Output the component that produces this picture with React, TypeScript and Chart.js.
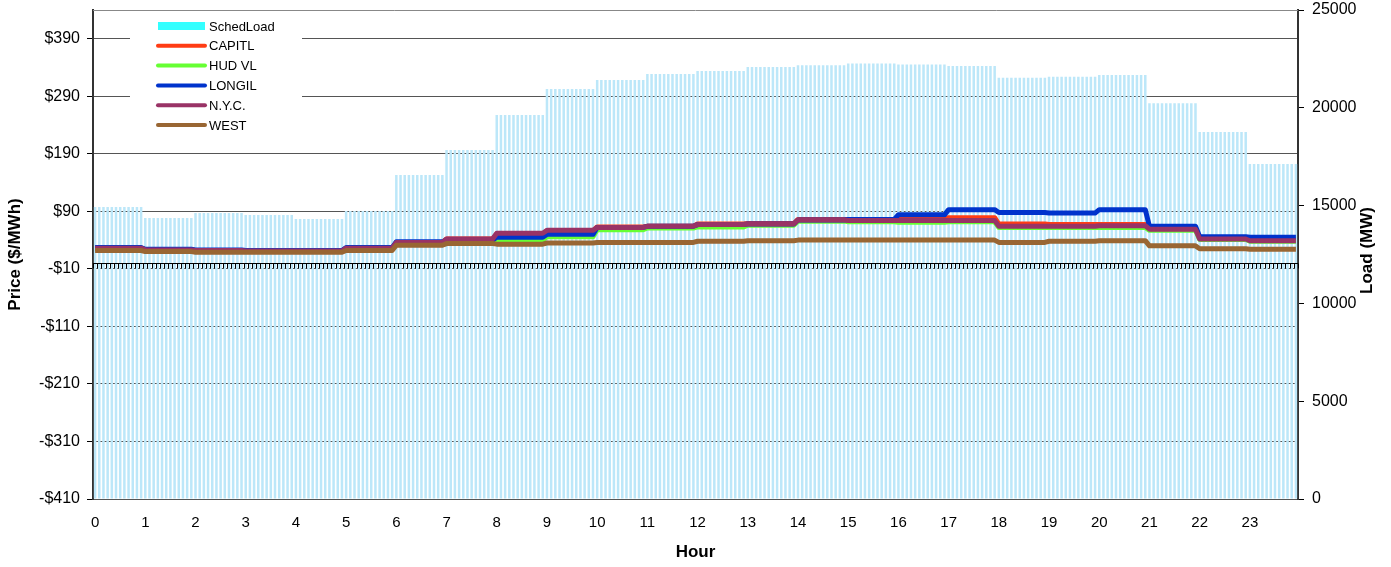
import React, { useEffect, useRef } from 'react';
import { Chart, registerables } from 'chart.js';

Chart.register(...registerables);

// ---- data (hourly schedule, shown at 5-minute resolution) ----
const hourLabels = ['0','1','2','3','4','5','6','7','8','9','10','11','12','13','14','15','16','17','18','19','20','21','22','23'];
const intervalsPerHour = 12;

const schedLoad = [14930, 14370, 14620, 14520, 14310, 14720, 16560, 17840, 19630, 20960, 21420, 21730, 21880, 22090, 22170, 22270, 22220, 22140, 21540, 21590, 21680, 20230, 18760, 17130];
const capitl = [26, 23, 22, 21, 21, 26, 36, 42, 51, 56, 63, 64, 68, 69, 76, 76, 78, 79, 68, 67, 67, 60, 43, 40];
const hudVl = [25, 22, 21, 20, 20, 25, 35, 40, 40, 46, 58, 61, 63, 66, 73, 72, 71, 72, 62, 62, 62, 57, 41, 38];
const longil = [27, 24, 23, 22, 22, 27, 37, 40, 45, 50, 62, 64, 67, 68, 75, 76, 84, 93, 88, 87, 93, 64, 46, 45];
const nyc = [26, 23, 22, 21, 21, 26, 36, 42, 52, 57, 62, 64, 67, 68, 75, 74, 74, 74, 64, 64, 65, 59, 42, 39];
const west = [22, 20, 19, 19, 19, 22, 31, 34, 33, 35, 36, 36, 38, 39, 40, 40, 40, 40, 36, 38, 39, 30, 25, 24];

const priceTicks = [-410, -310, -210, -110, -10, 90, 190, 290, 390];
const loadTicks = [0, 5000, 10000, 15000, 20000, 25000];

const FONT = "'Liberation Sans', Arial, Helvetica, sans-serif";

// repeat each hourly value over its 5-minute intervals
const toIntervals = (hourly: number[]) => hourly.flatMap((v) => Array(intervalsPerHour).fill(v));

const legendItems = [
  { label: 'SchedLoad', color: '#33ffff', box: true },
  { label: 'CAPITL', color: '#ff3c14' },
  { label: 'HUD VL', color: '#66ff33' },
  { label: 'LONGIL', color: '#0033cc' },
  { label: 'N.Y.C.', color: '#993366' },
  { label: 'WEST', color: '#996633' },
];

const framePlugin = {
  id: 'frame',
  beforeDatasetsDraw(chart: any) {
    const { ctx, chartArea } = chart;
    ctx.save();
    ctx.strokeStyle = '#888';
    ctx.lineWidth = 1;
    ctx.beginPath();
    ctx.moveTo(chartArea.left, chartArea.top + 0.5);
    ctx.lineTo(chartArea.right, chartArea.top + 0.5);
    ctx.stroke();
    ctx.restore();
  },
};

const zeroAxisPlugin = {
  id: 'zeroAxis',
  afterDatasetsDraw(chart: any) {
    const { ctx, chartArea, scales } = chart;
    const y = Math.round(scales.y.getPixelForValue(0)) + 0.5;
    const n = chart.data.labels.length;
    const w = (chartArea.right - chartArea.left) / n;
    ctx.save();
    ctx.strokeStyle = '#000';
    ctx.lineWidth = 1;
    ctx.beginPath();
    ctx.moveTo(chartArea.left, y);
    ctx.lineTo(chartArea.right, y);
    for (let i = 0; i <= n; i++) {
      const x = Math.round(chartArea.left + i * w) + 0.5;
      ctx.moveTo(x, y);
      ctx.lineTo(x, y + 5);
    }
    ctx.stroke();
    ctx.restore();
  },
};

const overlayPlugin = {
  id: 'overlay',
  afterDraw(chart: any) {
    const { ctx, chartArea } = chart;
    ctx.save();
    // legend
    ctx.fillStyle = '#fff';
    ctx.fillRect(130, 14, 172, 124);
    ctx.font = `13px ${FONT}`;
    ctx.textBaseline = 'middle';
    ctx.textAlign = 'left';
    legendItems.forEach((it, i) => {
      const cy = 26 + i * 19.8;
      if (it.box) {
        ctx.fillStyle = it.color;
        ctx.fillRect(158, cy - 4, 47, 8);
      } else {
        ctx.strokeStyle = it.color;
        ctx.lineWidth = 4;
        ctx.lineCap = 'round';
        ctx.beginPath();
        ctx.moveTo(158, cy);
        ctx.lineTo(205, cy);
        ctx.stroke();
      }
      ctx.fillStyle = '#000';
      ctx.fillText(it.label, 209, cy + 1);
    });
    // axis titles
    ctx.font = `bold 17px ${FONT}`;
    ctx.fillStyle = '#000';
    ctx.textAlign = 'center';
    ctx.textBaseline = 'middle';
    ctx.fillText('Hour', (chartArea.left + chartArea.right) / 2, 552);
    ctx.save();
    ctx.translate(15, (chartArea.top + chartArea.bottom) / 2);
    ctx.rotate(-Math.PI / 2);
    ctx.fillText('Price ($/MWh)', 0, 0);
    ctx.restore();
    ctx.save();
    ctx.translate(1367, (chartArea.top + chartArea.bottom) / 2 - 4);
    ctx.rotate(-Math.PI / 2);
    ctx.fillText('Load (MW)', 0, 0);
    ctx.restore();
    ctx.restore();
  },
};

const noPad = (s: any) => {
  s.paddingTop = 0;
  s.paddingBottom = 0;
  s.paddingLeft = 0;
  s.paddingRight = 0;
};

export default function App() {
  const ref = useRef<HTMLCanvasElement | null>(null);

  useEffect(() => {
    document.body.style.margin = '0';
    const canvas = ref.current;
    if (!canvas) return;
    const labels: string[] = [];
    hourLabels.forEach((h) => {
      for (let k = 0; k < intervalsPerHour; k++) labels.push(`${h}:${String(k * 5).padStart(2, '0')}`);
    });

    const line = (label: string, data: number[], color: string, order: number) => ({
      type: 'line' as const,
      label,
      data: toIntervals(data),
      borderColor: color,
      backgroundColor: color,
      borderWidth: 5,
      pointRadius: 0,
      tension: 0,
      fill: false,
      yAxisID: 'y',
      order,
      borderJoinStyle: 'round' as const,
    });

    const chart = new Chart(canvas, {
      type: 'bar',
      data: {
        labels,
        datasets: [
          {
            type: 'bar',
            label: 'SchedLoad',
            data: toIntervals(schedLoad),
            backgroundColor: 'rgb(188,231,249)',
            borderWidth: 0,
            barPercentage: 0.6,
            categoryPercentage: 1,
            yAxisID: 'y1',
            order: 10,
          } as any,
          line('CAPITL', capitl, '#ff3c14', 5),
          line('HUD VL', hudVl, '#66ff33', 4),
          line('LONGIL', longil, '#0033cc', 3),
          line('N.Y.C.', nyc, '#993366', 2),
          line('WEST', west, '#996633', 1),
        ],
      },
      options: {
        responsive: false,
        animation: false,
        devicePixelRatio: 1,
        layout: { padding: { top: 10, left: 0, right: 0, bottom: 0 } },
        plugins: { legend: { display: false }, tooltip: { enabled: false }, title: { display: false } },
        scales: {
          x: {
            type: 'category',
            offset: true,
            grid: { display: false, drawTicks: false },
            border: { display: false },
            ticks: {
              autoSkip: false,
              maxRotation: 0,
              minRotation: 0,
              padding: 15,
              color: '#000',
              font: { family: FONT, size: 15 },
              callback: (_v: any, i: number) => (i % intervalsPerHour === 0 ? hourLabels[i / intervalsPerHour] : ''),
            },
            afterFit: (s: any) => { s.height = 68; noPad(s); },
          },
          y: {
            position: 'left',
            min: -410,
            max: 440,
            afterBuildTicks: (s: any) => { s.ticks = priceTicks.map((v) => ({ value: v })); },
            ticks: {
              color: '#000',
              padding: 7,
              font: { family: FONT, size: 16 },
              callback: (v: any) => (Number(v) < 0 ? '-$' : '$') + Math.abs(Number(v)),
            },
            grid: { color: '#555', lineWidth: 1, tickLength: 6, tickColor: '#000' },
            border: { color: '#333', width: 2 },
            afterFit: (s: any) => { s.width = 93; noPad(s); },
          },
          y1: {
            position: 'right',
            min: 0,
            max: 25000,
            afterBuildTicks: (s: any) => { s.ticks = loadTicks.map((v) => ({ value: v })); },
            ticks: {
              color: '#000',
              padding: 8,
              font: { family: FONT, size: 16 },
              callback: (v: any) => String(v),
            },
            grid: { drawOnChartArea: false, tickLength: 6, tickColor: '#000' },
            border: { color: '#333', width: 2 },
            afterFit: (s: any) => { s.width = 93; noPad(s); },
          },
        },
      } as any,
      plugins: [framePlugin, zeroAxisPlugin, overlayPlugin],
    });
    return () => chart.destroy();
  }, []);

  return (
    <div style={{ width: 1391, height: 567 }}>
      <canvas ref={ref} width={1391} height={567} style={{ display: 'block' }} />
    </div>
  );
}
